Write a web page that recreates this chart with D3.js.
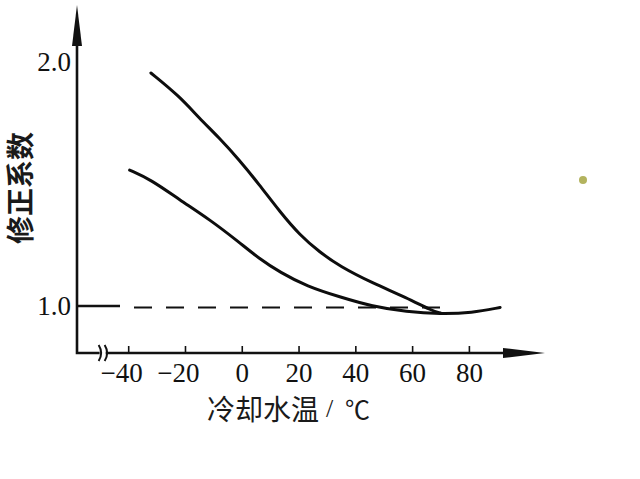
<!doctype html>
<html>
<head>
<meta charset="utf-8">
<script src="https://d3js.org/d3.v7.min.js"></script>
<style>
  body { margin: 0; background: #fff; }
  svg { display: block; }
  .tick text {
    font-family: "Liberation Serif", "DejaVu Serif", serif;
    font-size: 27px;
    fill: #111;
  }
  .tick line { stroke: #111; stroke-width: 1.6; }
  .cjk { font-family: "Noto Sans CJK SC", sans-serif; fill: #1a1a1a; }
</style>
</head>
<body>
<script>
  // tick labels
  var xTicks = [-40, -20, 0, 20, 40, 60, 80];
  var yTicks = [1.0, 2.0];

  // upper curve: coolant temperature (°C) vs correction factor
  var upperTemp = [-32, -22, -15, -8, -1, 6, 13.5, 20.5, 27.5, 34.5, 46, 58, 67, 70];
  var upperCoef = [1.955, 1.86, 1.77, 1.69, 1.6, 1.5, 1.385, 1.29, 1.22, 1.163, 1.094, 1.035, 0.98, 0.971];

  // lower curve
  var lowerTemp = [-39.5, -32, -22, -11, -1, 6, 13.5, 23, 34.5, 46, 58, 70, 81, 91];
  var lowerCoef = [1.557, 1.518, 1.436, 1.352, 1.262, 1.195, 1.138, 1.08, 1.037, 0.998, 0.976, 0.967, 0.972, 0.994];

  // reference level drawn dashed
  var refCoef = 1.0;
  var refEndTemp = 70;

  var width = 640, height = 479;
  var x0 = 77, y0 = 353;   // axis origin

  var svg = d3.select("body").append("svg")
    .attr("width", width)
    .attr("height", height);

  var x = d3.scaleLinear().domain([-40, 80]).range([128.2, 468.9]);
  var y = d3.scaleLinear().domain([1, 2]).range([306, 62]);

  // x axis ticks (marks point upward)
  var xAxis = d3.axisBottom(x)
    .tickValues(xTicks)
    .tickSizeInner(-7)
    .tickSizeOuter(0)
    .tickPadding(10)
    .tickFormat(function (d) { return d < 0 ? "\u2212" + Math.abs(d) : d; });

  var gx = svg.append("g")
    .attr("transform", "translate(0," + y0 + ")")
    .call(xAxis);
  gx.select(".domain").remove();
  gx.selectAll(".tick text")
    .filter(function (d) { return d < 0; })
    .attr("text-anchor", "end")
    .attr("x", 14);

  var yAxis = d3.axisLeft(y)
    .tickValues(yTicks)
    .tickSize(0)
    .tickPadding(6)
    .tickFormat(d3.format(".1f"));

  var gy = svg.append("g")
    .attr("transform", "translate(" + x0 + ",0)")
    .call(yAxis);
  gy.select(".domain").remove();

  // axis lines with arrows
  svg.append("path")
    .attr("d", "M" + x0 + ",40 V" + y0 + " H510")
    .attr("fill", "none")
    .attr("stroke", "#111")
    .attr("stroke-width", 2.6);

  svg.append("path")
    .attr("d", "M" + x0 + ",5 L" + (x0 + 5) + ",46 L" + (x0 - 5) + ",46 Z")
    .attr("fill", "#111");

  svg.append("path")
    .attr("d", "M545," + y0 + " L503," + (y0 - 5) + " L503," + (y0 + 5) + " Z")
    .attr("fill", "#111");

  // axis break mark
  var bx = x(-49);
  svg.append("rect")
    .attr("x", bx - 3).attr("y", y0 - 3)
    .attr("width", 6).attr("height", 6)
    .attr("fill", "#fff");
  [bx - 3, bx + 3].forEach(function (px) {
    svg.append("path")
      .attr("d", "M" + (px - 1) + "," + (y0 - 8) + " q5,8 0,16")
      .attr("fill", "none")
      .attr("stroke", "#111")
      .attr("stroke-width", 2);
  });

  // reference line at 1.0 : solid stub then dashes
  var xStub = 120;
  svg.append("line")
    .attr("x1", x0).attr("x2", xStub)
    .attr("y1", y(refCoef)).attr("y2", y(refCoef))
    .attr("stroke", "#111")
    .attr("stroke-width", 2.4);
  svg.append("line")
    .attr("x1", xStub + 14).attr("x2", x(refEndTemp))
    .attr("y1", y(refCoef) + 1.5).attr("y2", y(refCoef) + 1.5)
    .attr("stroke", "#111")
    .attr("stroke-width", 2)
    .attr("stroke-dasharray", "18,14");

  // curves
  var line = d3.line()
    .x(function (d) { return x(d[0]); })
    .y(function (d) { return y(d[1]); })
    .curve(d3.curveBasis);

  [[upperTemp, upperCoef], [lowerTemp, lowerCoef]].forEach(function (s) {
    svg.append("path")
      .datum(d3.zip(s[0], s[1]))
      .attr("d", line)
      .attr("fill", "none")
      .attr("stroke", "#0d0d0d")
      .attr("stroke-width", 3)
      .attr("stroke-linecap", "round");
  });

  // axis titles
  var title = svg.append("text")
    .attr("class", "cjk")
    .attr("x", 207)
    .attr("y", 408)
    .attr("dominant-baseline", "central")
    .style("font-size", "28px");
  title.append("tspan").text("冷却水温");
  title.append("tspan")
    .attr("x", 326)
    .style("font-family", "'Liberation Serif', serif")
    .style("font-size", "26px")
    .text("/");
  title.append("tspan")
    .attr("x", 345)
    .style("font-size", "25px")
    .text("℃");

  svg.append("text")
    .attr("class", "cjk")
    .attr("transform", "translate(19,188) rotate(-90)")
    .attr("text-anchor", "middle")
    .attr("dominant-baseline", "central")
    .style("font-size", "28px")
    .style("font-weight", "bold")
    .text("修正系数");

  // small stray mark at right
  svg.append("circle")
    .attr("cx", 583).attr("cy", 180).attr("r", 4)
    .attr("fill", "#b3b35e");
</script>
</body>
</html>
